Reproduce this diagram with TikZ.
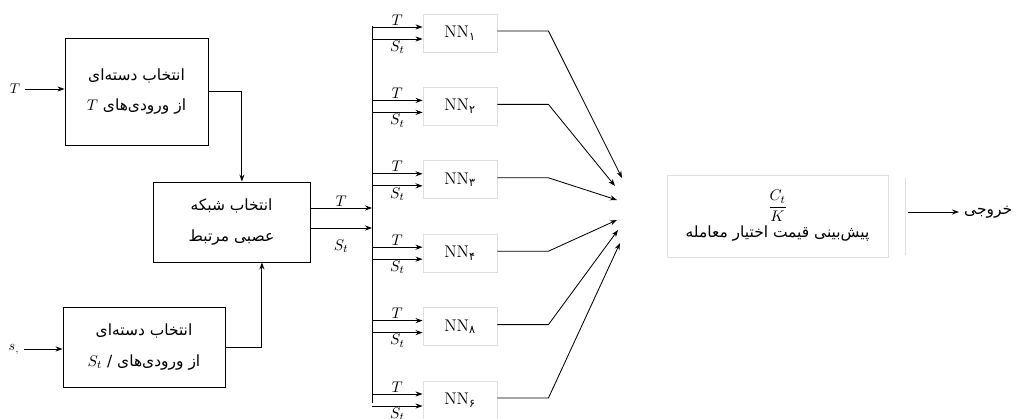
\documentclass[tikz,border=0pt]{standalone}
\usepackage{amsmath}
\usepackage{fontspec}
\TeXXeTstate=1
\newfontfamily\farsi[Script=Arabic]{DejaVu Sans}
\usetikzlibrary{positioning, arrows.meta, calc}

\newcommand{\fa}[1]{{\farsi\beginR #1\endR}}

\begin{document}
\begin{tikzpicture}[x=0.025cm, y=-0.025cm, >={Stealth[length=5pt,width=3.6pt]},
    line width=0.6pt,
    selbox/.style={draw, align=center, font=\fontsize{11}{22}\selectfont},
    nnbox/.style={draw=black!13, minimum width=1.85cm, minimum height=0.95cm,
                  font=\fontsize{12}{14}\selectfont},
    lbl/.style={font=\fontsize{11}{12}\selectfont, inner sep=1pt}]

    \useasboundingbox (0,0) rectangle (1016,419);

    % ---------- selection blocks ----------
    \node[selbox, minimum width=3.575cm, minimum height=2.675cm] (selT) at (136.5,91.5)
      {\fa{انتخاب دسته‌ای}\\ \fa{از ورودی‌های \beginL$T$\endL}};
    \node[selbox, minimum width=3.925cm, minimum height=2cm] (selNN) at (231.5,222)
      {\fa{انتخاب شبکه}\\ \fa{عصبی مرتبط}};
    \node[selbox, minimum width=4.05cm, minimum height=2cm] (selS) at (144,347)
      {\fa{انتخاب دسته‌ای}\\ \fa{از ورودی‌های / \beginL$S_t$\endL}};

    % ---------- inputs ----------
    \node (inT) at (15,89) {$T$};
    \node (inS) at (14,349) {$s_{,}$};
    \draw[->] (inT) -- (inT -| selT.west);
    \draw[->] (inS) -- (inS -| selS.west);

    % ---------- into network selection ----------
    \draw[->] (selT.east) -| ([xshift=0.26cm]selNN.north);
    \draw[->] (selS.east) -| ([xshift=0.76cm]selNN.south);

    % ---------- bus ----------
    \coordinate (bustop) at (372,26);
    \coordinate (busbot) at (372,403);
    \draw (bustop) -- (busbot);

    \coordinate (oT) at ([yshift=0.35cm]selNN.east);
    \coordinate (oS) at ([yshift=-0.15cm]selNN.east);
    \draw[->] (oT) -- node[above, lbl] {$T$} (oT -| bustop);
    \draw[->] (oS) -- node[below=7pt, lbl] {$S_t$} (oS -| bustop);

    % ---------- networks ----------
    \foreach \i/\d/\tx/\ty in {1/۱/622/178, 2/۲/615/186, 3/۳/617/200,
                               4/۴/617/220, 5/۸/618/230, 6/۶/620/243} {
      \node[nnbox] (nn\i) at (460,{33+73.4*(\i-1)}) {NN\textsubscript{\farsi\d}};
      \coordinate (t\i) at ([yshift=0.15cm]nn\i.west);
      \coordinate (s\i) at ([yshift=-0.15cm]nn\i.west);
      \draw[->] (bustop |- t\i) -- node[above, lbl] {$T$} (t\i);
      \draw[->] (bustop |- s\i) -- node[below, lbl] {$S_t$} (s\i);
      \coordinate (tip\i) at (\tx,\ty);
      \draw[->] ([yshift=0.05cm]nn\i.east) -- ++(51,0) -- (tip\i);
    }

    % ---------- output ----------
    \node[draw=black!12, minimum width=5.525cm, minimum height=2.05cm, align=center,
          font=\fontsize{11}{14}\selectfont] (pred) at (777.5,216)
      {$\dfrac{C_t}{K}$\\[2pt] \fa{پیش‌بینی قیمت اختیار معامله}};
    \draw[black!12] (905,178) -- (905,255);
    \node[anchor=west, font=\fontsize{11}{12}\selectfont] (outlbl) at (959,212) {\fa{خروجی}};
    \draw[->] ([xshift=0.5cm]pred.east |- outlbl) -- (outlbl.west);

  \end{tikzpicture}
\end{document}
